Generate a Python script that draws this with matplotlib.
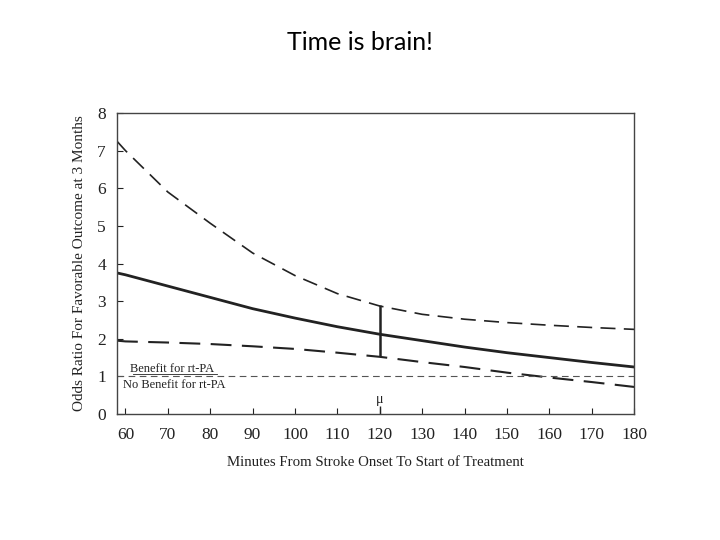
import matplotlib
matplotlib.use("Agg")
import matplotlib.pyplot as plt

minutes = [58, 60, 70, 80, 90, 100, 110, 120, 130, 140, 150, 160, 170, 180]
odds_mean = [3.75, 3.7, 3.4, 3.1, 2.8, 2.55, 2.32, 2.12, 1.95, 1.78, 1.63, 1.5, 1.37, 1.25]
odds_upper = [7.25, 7.0, 5.9, 5.07, 4.28, 3.68, 3.2, 2.87, 2.65, 2.52, 2.43, 2.36, 2.3, 2.25]
odds_lower = [1.95, 1.93, 1.9, 1.86, 1.8, 1.73, 1.63, 1.52, 1.38, 1.25, 1.1, 0.97, 0.85, 0.72]
bar_x = 120
bar_lo, bar_hi = 1.55, 2.9
x_ticks = list(range(60, 181, 10))
y_ticks = list(range(0, 9))

serif = ["Liberation Serif", "DejaVu Serif"]
ink = "#222222"

fig = plt.figure(figsize=(7.2, 5.4), dpi=100)
fig.text(0.5, 0.922, "Time is brain!", ha="center", va="center",
         fontsize=18, family=["Lato", "DejaVu Sans"], color="black")

ax = fig.add_axes([0.1625, 0.2333, 0.7181, 0.5574])
ax.plot(minutes, odds_upper, color=ink, lw=1.2, dashes=(9, 5))
ax.plot(minutes, odds_mean, color=ink, lw=2.0)
ax.plot(minutes, odds_lower, color=ink, lw=1.5, dashes=(10, 5))
ax.axhline(1, color="#555555", lw=0.8, dashes=(6, 4))
ax.vlines(bar_x, bar_lo, bar_hi, color=ink, lw=1.8)

ax.text(61.0, 1.04, "Benefit for rt-PA", fontsize=9, family=serif, color=ink,
        ha="left", va="bottom")
ax.plot([61.8, 81.5], [1.06, 1.06], color=ink, lw=0.6)
ax.text(59.3, 0.93, "No Benefit for rt-PA", fontsize=9, family=serif, color=ink,
        ha="left", va="top")
ax.text(bar_x, 0.22, "μ", fontsize=10, family=serif, color=ink, ha="center", va="bottom")
ax.vlines(bar_x, 0, 0.22, color=ink, lw=1)

ax.set_xlim(58, 180)
ax.set_ylim(0, 8)
ax.set_xticks(x_ticks)
ax.set_yticks(y_ticks)
ax.tick_params(axis="x", direction="in", length=4, colors=ink, labelsize=12.5, pad=9)
ax.tick_params(axis="y", direction="in", length=4, colors=ink, labelsize=12.5, pad=8)
for lab in ax.get_xticklabels() + ax.get_yticklabels():
    lab.set_family(serif)
for s in ax.spines.values():
    s.set_color("#444444")
    s.set_linewidth(1.0)
ax.set_xlabel("Minutes From Stroke Onset To Start of Treatment", family=serif,
              fontsize=10.7, color=ink, labelpad=10)
ax.set_ylabel("Odds Ratio For Favorable Outcome at 3 Months", family=serif,
              fontsize=11, color=ink, labelpad=8)

fig.savefig("out.png", dpi=100)
